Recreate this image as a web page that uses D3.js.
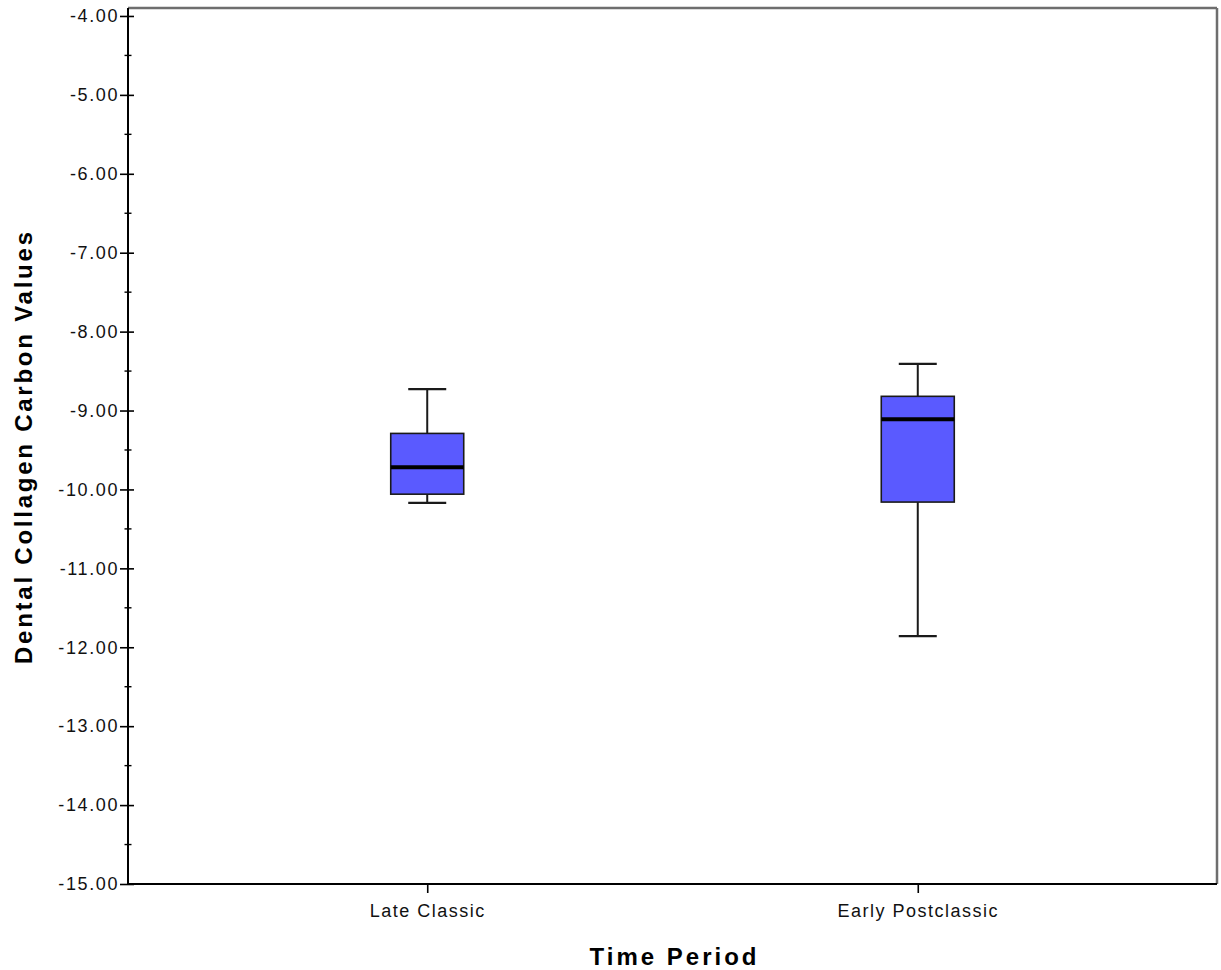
<!DOCTYPE html>
<html>
<head>
<meta charset="utf-8">
<script src="https://cdn.jsdelivr.net/npm/d3@7"></script>
<style>
  html, body { margin: 0; padding: 0; background: #fff; }
  svg { display: block; }
  text { font-family: "Liberation Sans", Arial, sans-serif; }
</style>
</head>
<body>
<svg id="chart" width="1221" height="970"></svg>
<script>
// ---- data ----
const categories = ["Late Classic", "Early Postclassic"];
const whiskerHigh = [-8.73, -8.41];
const q3Values    = [-9.29, -8.82];
const medians     = [-9.72, -9.11];
const q1Values    = [-10.06, -10.16];
const whiskerLow  = [-10.17, -11.86];
const yTicks = [-15, -14, -13, -12, -11, -10, -9, -8, -7, -6, -5, -4];
const yMinorTicks = [-14.5, -13.5, -12.5, -11.5, -10.5, -9.5, -8.5, -7.5, -6.5, -5.5, -4.5];
const xTitle = "Time Period";
const yTitle = "Dental Collagen Carbon Values";

// ---- layout ----
const svg = d3.select("#chart");
const pLeft = 128, pRight = 1217, pTop = 8, pBottom = 884;

const y = d3.scaleLinear().domain([-15, -3.899]).range([pBottom, pTop]);
const x = d3.scalePoint().domain(categories).range([pLeft, pRight]).padding(0.61);

const boxW = 73, capW = 38;

// frame: top & right grey
svg.append("line").attr("x1", pLeft).attr("x2", pRight).attr("y1", pTop).attr("y2", pTop)
  .attr("stroke", "#6e6e6e").attr("stroke-width", 2.5);
svg.append("line").attr("x1", pRight).attr("x2", pRight).attr("y1", pTop).attr("y2", pBottom)
  .attr("stroke", "#6e6e6e").attr("stroke-width", 2.5);

// boxes
const data = categories.map((c, i) => ({
  c, hi: whiskerHigh[i], q3: q3Values[i], med: medians[i], q1: q1Values[i], lo: whiskerLow[i]
}));

const g = svg.append("g");
data.forEach(d => {
  const cx = x(d.c);
  g.append("line").attr("x1", cx).attr("x2", cx).attr("y1", y(d.hi)).attr("y2", y(d.q3))
    .attr("stroke", "#1a1a1a").attr("stroke-width", 2);
  g.append("line").attr("x1", cx).attr("x2", cx).attr("y1", y(d.q1)).attr("y2", y(d.lo))
    .attr("stroke", "#1a1a1a").attr("stroke-width", 2);
  g.append("line").attr("x1", cx - capW / 2).attr("x2", cx + capW / 2).attr("y1", y(d.hi)).attr("y2", y(d.hi))
    .attr("stroke", "#1a1a1a").attr("stroke-width", 2.2);
  g.append("line").attr("x1", cx - capW / 2).attr("x2", cx + capW / 2).attr("y1", y(d.lo)).attr("y2", y(d.lo))
    .attr("stroke", "#1a1a1a").attr("stroke-width", 2.2);
  g.append("rect").attr("x", cx - boxW / 2).attr("width", boxW)
    .attr("y", y(d.q3)).attr("height", y(d.q1) - y(d.q3))
    .attr("fill", "#5a5aff").attr("stroke", "#1a1a1a").attr("stroke-width", 1.6);
  g.append("line").attr("x1", cx - boxW / 2).attr("x2", cx + boxW / 2).attr("y1", y(d.med)).attr("y2", y(d.med))
    .attr("stroke", "#000").attr("stroke-width", 4);
});

// y axis
const yAxis = d3.axisLeft(y).tickValues(yTicks).tickSize(8).tickPadding(1).tickSizeOuter(0)
  .tickFormat(d => d.toFixed(2));
const gy = svg.append("g").attr("transform", `translate(${pLeft},0)`).call(yAxis);
gy.select(".domain").attr("stroke", "#000").attr("stroke-width", 2)
  .attr("d", `M0,${pTop}V${pBottom}`);
gy.selectAll(".tick line").attr("x1", 6).attr("x2", -8).attr("stroke", "#000").attr("stroke-width", 1.6);
gy.selectAll(".tick text").attr("font-size", 18).attr("fill", "#111")
  .attr("letter-spacing", 1.6).attr("font-family", "'Liberation Sans', Arial, sans-serif");
gy.selectAll(".minor").data(yMinorTicks).enter().append("line").attr("class", "minor")
  .attr("x1", -3.5).attr("x2", 3.5).attr("y1", d => y(d)).attr("y2", d => y(d))
  .attr("stroke", "#000").attr("stroke-width", 1.4);

// x axis
const xAxis = d3.axisBottom(x).tickSize(9).tickPadding(11).tickSizeOuter(0);
const gx = svg.append("g").attr("transform", `translate(0,${pBottom})`).call(xAxis);
gx.select(".domain").attr("stroke", "#000").attr("stroke-width", 2)
  .attr("d", `M${pLeft},0H${pRight}`);
gx.selectAll(".tick line").attr("stroke", "#000").attr("stroke-width", 1.6);
gx.selectAll(".tick text").attr("font-size", 18).attr("fill", "#111")
  .attr("letter-spacing", 1.5).attr("font-family", "'Liberation Sans', Arial, sans-serif");

// titles
svg.append("text").attr("x", 673).attr("y", 965).attr("text-anchor", "middle")
  .attr("font-size", 24).attr("font-weight", "bold").attr("fill", "#000")
  .attr("textLength", 167).attr("lengthAdjust", "spacing")
  .text(xTitle);
svg.append("text").attr("transform", "translate(32,448) rotate(-90)").attr("text-anchor", "middle")
  .attr("font-size", 24).attr("font-weight", "bold").attr("fill", "#000")
  .attr("textLength", 432).attr("lengthAdjust", "spacing")
  .text(yTitle);
</script>
</body>
</html>
